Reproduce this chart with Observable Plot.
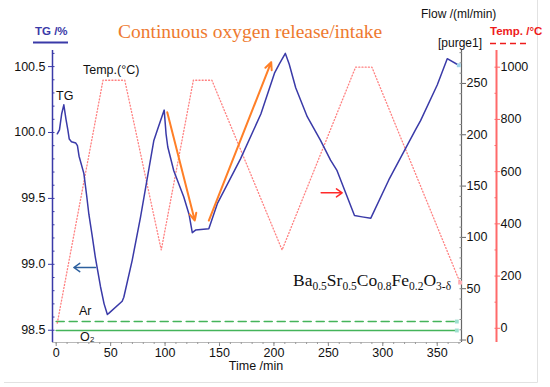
<!DOCTYPE html>
<html>
<head>
<meta charset="utf-8">
<script src="https://cdn.jsdelivr.net/npm/d3@7"></script>
<script src="https://cdn.jsdelivr.net/npm/@observablehq/plot@0.6"></script>
<style>
  html, body { margin: 0; padding: 0; background: white; }
</style>
</head>
<body>
<div id="chart"></div>
<script>
// ---------- data ----------
const timeTG = [1, 3, 5, 7, 9, 10.7, 12, 14, 18, 19.5, 21, 25.4, 28, 30, 33, 36, 40.7, 44, 47, 48.5, 60.6, 62.1, 69.8, 77.5, 89.7, 93, 99.2, 100.9, 102.5, 108, 117.2, 122, 125, 128, 140.2, 148, 169.3, 188, 200.5, 205, 210.5, 214, 220, 230.6, 242.8, 252, 258, 274, 281, 289, 305.5, 330, 334.7, 350, 359.2, 369.8];
const tgValues = [99.99, 100.02, 100.14, 100.21, 100.10, 100.02, 99.95, 99.93, 99.92, 99.90, 99.82, 99.69, 99.52, 99.38, 99.22, 99.05, 98.83, 98.70, 98.62, 98.63, 98.72, 98.75, 99.03, 99.36, 99.94, 100.02, 100.17, 99.99, 99.89, 99.71, 99.51, 99.38, 99.24, 99.26, 99.27, 99.46, 99.80, 100.14, 100.45, 100.52, 100.60, 100.52, 100.34, 100.12, 99.94, 99.79, 99.71, 99.37, 99.36, 99.35, 99.64, 100.02, 100.09, 100.36, 100.56, 100.51];

const timeTemp = [1, 43, 63, 96.5, 126, 143, 207.5, 275, 290, 371];
const tempValues = [20, 950, 950, 300, 950, 950, 300, 1000, 1000, 175];

const flowTime = [0, 368];
const arFlow = [18, 18];
const o2Flow = [9.3, 9.3];

const xTicks = [0, 50, 100, 150, 200, 250, 300, 350];
const tgTicks = [98.5, 99.0, 99.5, 100.0, 100.5];
const flowTicks = [0, 50, 100, 150, 200, 250];
const tempTicks = [0, 200, 400, 600, 800, 1000];

// scale domains (the three vertical axes share the same plot height)
const xDomain = [-3.4, 372.3];
const tgDomain = [98.407, 100.622];
const flowDomain = [-2.4, 282.1];
const tempDomain = [-54.4, 1063.9];

// annotation arrows (time, TG units)
const orangeArrows = [
  {x1: 102, y1: 100.154, x2: 127.3, y2: 99.332},
  {x1: 140.2, y1: 99.332, x2: 197.5, y2: 100.533}
];
const blueArrow = [{x1: 36.1, y1: 98.976, x2: 16.2, y2: 98.976}];
const redArrow = [{x1: 243.4, y1: 99.542, x2: 262.7, y2: 99.542}];

// ---------- helpers ----------
const flowToTG = d3.scaleLinear().domain(flowDomain).range(tgDomain);
const tempToTG = d3.scaleLinear().domain(tempDomain).range(tgDomain);

const tgData = timeTG.map((t, i) => ({t, v: tgValues[i]}));
const tempData = timeTemp.map((t, i) => ({t, v: tempToTG(tempValues[i])}));
const arData = flowTime.map((t, i) => ({t, v: flowToTG(arFlow[i])}));
const o2Data = flowTime.map((t, i) => ({t, v: flowToTG(o2Flow[i])}));

// end-of-curve cursor markers
const endMarkers = [
  {...tgData[tgData.length - 1], c: "#9fd3ea"},
  {...arData[arData.length - 1], c: "#9fe0d0"},
  {...o2Data[o2Data.length - 1], c: "#9fe0d0"},
  {...tempData[tempData.length - 1], c: "#ffb0b8"}
];

const minorX = d3.range(0, 371, 10);
const minorTG = d3.range(98.5, 100.61, 0.1).map(d => +d.toFixed(2));
const minorFlow = d3.range(0, 281, 10);
const minorTemp = d3.range(0, 1001, 100);

const BLUE = "#3a3aa8";
const GREEN = "#44b45a";
const RED = "#ff6a6a";
const PX_TEMP_AXIS = 35;

const svg = Plot.plot({
  width: 550,
  height: 387,
  marginLeft: 52,
  marginRight: 89,
  marginTop: 50,
  marginBottom: 45,
  style: {fontFamily: "'Liberation Sans', Arial, sans-serif", fontSize: "12px", background: "white", color: "#111"},
  x: {domain: xDomain, axis: null},
  y: {domain: tgDomain, axis: null},
  marks: [
    // axis lines
    Plot.ruleY([tgDomain[0]], {stroke: "#b8b8b8", strokeWidth: 1}),
    Plot.ruleX([xDomain[0]], {stroke: BLUE, strokeWidth: 1.5}),
    Plot.ruleX([xDomain[1]], {stroke: "#666", strokeWidth: 1.2}),
    Plot.ruleX([xDomain[1]], {stroke: RED, strokeWidth: 2, dx: PX_TEMP_AXIS}),
    // x axis
    Plot.axisX(xTicks, {tickSize: 4, tickPadding: 2, fontSize: 12.5, stroke: "#888", fill: "#111", tickFormat: d => String(d)}),
    Plot.axisX(minorX, {tickSize: 2, tickFormat: () => "", stroke: "#999"}),
    // TG axis
    Plot.axisY(tgTicks, {anchor: "left", tickSize: 4, tickPadding: 3, fontSize: 12.5, stroke: BLUE, fill: "#111", tickFormat: d => d.toFixed(1)}),
    Plot.axisY(minorTG, {anchor: "left", tickSize: 2.5, dx: 2.5, tickFormat: () => "", stroke: BLUE}),
    // Flow axis
    Plot.axisY(flowTicks.map(flowToTG), {anchor: "right", tickSize: 4, tickPadding: 1, fontSize: 12.5, stroke: "#666", fill: "#111", tickFormat: d => String(Math.round(flowToTG.invert(d)))}),
    Plot.axisY(minorFlow.map(flowToTG), {anchor: "right", tickSize: 2.5, dx: -2.5, tickFormat: () => "", stroke: "#888"}),
    // Temperature axis
    Plot.axisY(tempTicks.map(tempToTG), {anchor: "right", dx: PX_TEMP_AXIS, tickSize: 3, tickPadding: 1, fontSize: 12.5, stroke: RED, fill: "#111", tickFormat: d => String(Math.round(tempToTG.invert(d)))}),
    Plot.axisY(minorTemp.map(tempToTG), {anchor: "right", dx: PX_TEMP_AXIS - 2.5, tickSize: 2.5, tickFormat: () => "", stroke: RED}),
    // series
    Plot.line(o2Data, {x: "t", y: "v", stroke: GREEN, strokeWidth: 1.6}),
    Plot.line(arData, {x: "t", y: "v", stroke: GREEN, strokeWidth: 1.6, strokeDasharray: "8,5"}),
    Plot.line(tempData, {x: "t", y: "v", stroke: RED, strokeWidth: 1.3, strokeDasharray: "1,2.2", strokeOpacity: 0.85}),
    Plot.line(tgData, {x: "t", y: "v", stroke: BLUE, strokeWidth: 1.5, curve: "linear"}),
    Plot.dot(endMarkers, {x: "t", y: "v", symbol: "square", r: 2.2, fill: "c", stroke: "none"}),
    // arrows
    Plot.arrow(orangeArrows, {x1: "x1", y1: "y1", x2: "x2", y2: "y2", stroke: "#ff7f27", strokeWidth: 2, headLength: 6, headAngle: 50}),
    Plot.arrow(blueArrow, {x1: "x1", y1: "y1", x2: "x2", y2: "y2", stroke: "#2c5f9e", strokeWidth: 1.5, headLength: 9, headAngle: 70}),
    Plot.arrow(redArrow, {x1: "x1", y1: "y1", x2: "x2", y2: "y2", stroke: "#ff2a2a", strokeWidth: 1.5, headLength: 9, headAngle: 70})
  ]
});

// ---------- texts ----------
const s = d3.select(svg);
const SANS = "'Liberation Sans', Arial, sans-serif";
const SERIF = "'Liberation Serif', 'Times New Roman', serif";
function text(x, y, str, o = {}) {
  return s.append("text").attr("x", x).attr("y", y)
    .attr("font-family", o.family || SANS)
    .attr("font-size", o.size || 12)
    .attr("font-weight", o.weight || "normal")
    .attr("fill", o.fill || "#111")
    .attr("text-anchor", o.anchor || "start")
    .text(str);
}
// frame border
s.append("line").attr("x1", 537.5).attr("x2", 537.5).attr("y1", 0).attr("y2", 382.5).attr("stroke", "#e2e2e2");
s.append("line").attr("x1", 4).attr("x2", 537.5).attr("y1", 382.5).attr("y2", 382.5).attr("stroke", "#e2e2e2");

text(118, 38, "Continuous oxygen release/intake", {family: SERIF, size: 19.5, fill: "#ee7a2f"});
text(35, 35, "TG /%", {size: 11.5, weight: "bold", fill: BLUE});
s.append("line").attr("x1", 33).attr("x2", 68).attr("y1", 42.5).attr("y2", 42.5).attr("stroke", BLUE).attr("stroke-width", 2);
text(421, 18, "Flow /(ml/min)", {size: 12});
text(438, 47, "[purge1]", {size: 12});
text(490, 35, "Temp. /°C", {size: 11.5, weight: "bold", fill: "#ee1c1c"});
s.append("line").attr("x1", 490).attr("x2", 527).attr("y1", 43.5).attr("y2", 43.5).attr("stroke", "#ee1c1c").attr("stroke-width", 1.6).attr("stroke-dasharray", "6,4");
text(83, 74, "Temp.(°C)", {size: 12.5});
text(56, 100, "TG", {size: 12.5});
text(79, 315, "Ar", {size: 12.5});
text(80, 341, "O₂", {size: 12.5});
text(256, 370, "Time /min", {size: 12.5, anchor: "middle"});

// formula with subscripts
const f = s.append("text").attr("x", 293).attr("y", 286)
  .attr("text-anchor", "start")
  .attr("font-family", SERIF).attr("font-size", 17.5).attr("fill", "#111");
const parts = [["Ba", false], ["0.5", true], ["Sr", false], ["0.5", true], ["Co", false], ["0.8", true], ["Fe", false], ["0.2", true], ["O", false], ["3-δ", true]];
let sub = false;
for (const [p, isSub] of parts) {
  const t = f.append("tspan").text(p);
  if (isSub && !sub) t.attr("dy", 4).attr("font-size", 11.5);
  else if (isSub) t.attr("font-size", 11.5);
  if (!isSub && sub) t.attr("dy", -4);
  sub = isSub;
}

document.getElementById("chart").appendChild(svg);
</script>
</body>
</html>
